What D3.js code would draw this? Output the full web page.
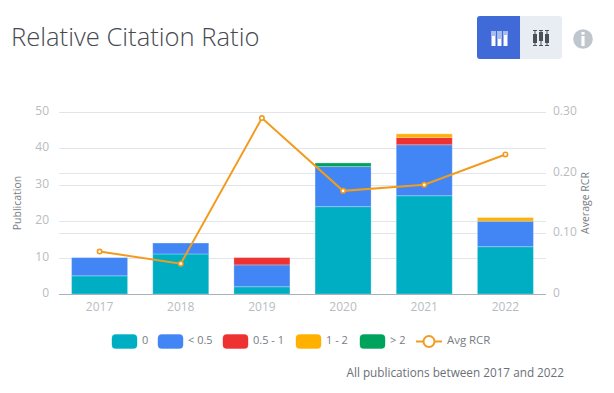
<!DOCTYPE html>
<html lang="en">
<head>
    <meta charset="UTF-8">
    <title>Relative Citation Ratio</title>
    <script src="https://d3js.org/d3.v7.min.js"></script>
    <style>
        body { margin: 0; background: #fff; }
        svg { display: block; font-family: "Open Sans", sans-serif; }
        .tick text { fill: #b8bcc2; font-size: 12px; font-family: "Open Sans", sans-serif; }
        .tick line, .domain { display: none; }
        .grid line { stroke: #e1e5ec; stroke-width: 1; }
    </style>
</head>
<body>
    <svg id="chart" width="614" height="393"></svg>
    <script>
        const years = ["2017", "2018", "2019", "2020", "2021", "2022"];
        const groups = ["0", "< 0.5", "0.5 - 1", "1 - 2", "> 2"];
        const colors = ["#00aec3", "#4285f4", "#ee3131", "#ffb000", "#00a35c"];
        const zero = [5, 11, 2, 24, 27, 13];
        const underHalf = [5, 3, 6, 11, 14, 7];
        const halfToOne = [0, 0, 2, 0, 2, 0];
        const oneToTwo = [0, 0, 0, 0, 1, 1];
        const overTwo = [0, 0, 0, 1, 0, 0];
        const avgRcr = [0.07, 0.05, 0.29, 0.17, 0.18, 0.23];
        const leftTicks = [0, 10, 20, 30, 40, 50];
        const rightTicks = [0, 0.1, 0.2, 0.3];

        const svg = d3.select("#chart");
        const plot = { left: 59, right: 546, top: 112, bottom: 294 };

        const rows = years.map((y, i) => ({
            year: y,
            "0": zero[i],
            "< 0.5": underHalf[i],
            "0.5 - 1": halfToOne[i],
            "1 - 2": oneToTwo[i],
            "> 2": overTwo[i]
        }));
        const stacked = d3.stack().keys(groups)(rows);

        const x = d3.scaleBand().domain(years).range([plot.left, plot.right]).paddingInner(0.31).paddingOuter(0.155);
        const xPoint = y => x(y) + x.bandwidth() / 2;
        const yLeft = d3.scaleLinear().domain([0, 50]).range([plot.bottom, plot.top]);
        const yRight = d3.scaleLinear().domain([0, 0.3]).range([plot.bottom, plot.top]);
        const color = d3.scaleOrdinal().domain(groups).range(colors);

        // title
        svg.append("text").attr("x", 11).attr("y", 45.5)
            .attr("font-size", 25.6).attr("font-weight", 300).attr("fill", "#464a50").text("Relative Citation Ratio");

        // both axes draw their own grid lines
        const grid = svg.append("g").attr("class", "grid");
        grid.selectAll(".gl").data(leftTicks.slice(1)).enter().append("line")
            .attr("x1", plot.left).attr("x2", plot.right)
            .attr("y1", d => Math.round(yLeft(d)) + 0.5).attr("y2", d => Math.round(yLeft(d)) + 0.5);
        grid.selectAll(".gr").data(rightTicks.slice(1, 3)).enter().append("line")
            .attr("x1", plot.left).attr("x2", plot.right)
            .attr("y1", d => Math.round(yRight(d)) + 0.5).attr("y2", d => Math.round(yRight(d)) + 0.5);

        // bars
        svg.selectAll(".layer").data(stacked).enter().append("g")
            .attr("fill", d => color(d.key))
            .selectAll("rect").data(d => d.filter(p => p[1] > p[0])).enter().append("rect")
            .attr("x", d => x(d.data.year))
            .attr("width", x.bandwidth())
            .attr("y", d => yLeft(d[1]))
            .attr("height", d => yLeft(d[0]) - yLeft(d[1]))
            .attr("stroke", "#fff").attr("stroke-opacity", 0.25).attr("stroke-width", 1);

        // baseline
        svg.append("line").attr("x1", plot.left).attr("x2", plot.right)
            .attr("y1", plot.bottom + 0.5).attr("y2", plot.bottom + 0.5)
            .attr("stroke", "#a9b1ba");

        // axes
        svg.append("g").attr("transform", `translate(${plot.left - 7},0)`)
            .call(d3.axisLeft(yLeft).tickValues(leftTicks).tickSize(0).tickFormat(d3.format("d")))
            .selectAll("text").attr("dy", "0.2em");
        svg.append("g").attr("transform", `translate(${plot.right + 7},0)`)
            .call(d3.axisRight(yRight).tickValues(rightTicks).tickSize(0).tickPadding(0).tickFormat(d => d === 0 ? "0" : d3.format(".2f")(d)))
            .selectAll("text").attr("dy", "0.2em");
        svg.append("g").attr("transform", `translate(0,${plot.bottom + 5})`)
            .call(d3.axisBottom(x).tickSize(0));

        svg.append("text").attr("transform", "translate(21,203) rotate(-90)")
            .attr("text-anchor", "middle").attr("font-size", 10.5).attr("fill", "#777c83").text("Publication");
        svg.append("text").attr("transform", "translate(589,203) rotate(-90)")
            .attr("text-anchor", "middle").attr("font-size", 10.5).attr("fill", "#777c83").text("Average RCR");

        // line
        const line = d3.line().x((d, i) => xPoint(years[i])).y(d => yRight(d));
        svg.append("path").datum(avgRcr).attr("d", line)
            .attr("fill", "none").attr("stroke", "#f29c1f").attr("stroke-width", 2);
        svg.selectAll(".pt").data(avgRcr).enter().append("circle")
            .attr("cx", (d, i) => xPoint(years[i])).attr("cy", d => yRight(d)).attr("r", 2.2)
            .attr("fill", "#fff").attr("stroke", "#f29c1f").attr("stroke-width", 1.6);

        // legend
        const legendX = [112, 158, 223, 296, 360];
        const legend = svg.append("g");
        groups.forEach((g, i) => {
            legend.append("rect").attr("x", legendX[i]).attr("y", 334.5).attr("width", 25).attr("height", 14).attr("rx", 3.5)
                .attr("fill", color(g)).attr("stroke", color(g)).attr("stroke-opacity", 0.4);
            legend.append("text").attr("x", legendX[i] + 30).attr("y", 344)
                .attr("font-size", 11).attr("fill", "#777c83").text(g);
        });
        legend.append("line").attr("x1", 416).attr("x2", 442).attr("y1", 341.5).attr("y2", 341.5)
            .attr("stroke", "#f29c1f").attr("stroke-width", 2);
        legend.append("circle").attr("cx", 429).attr("cy", 341.5).attr("r", 5.5)
            .attr("fill", "#fff").attr("stroke", "#f29c1f").attr("stroke-width", 2);
        legend.append("text").attr("x", 447).attr("y", 344)
            .attr("font-size", 11.4).attr("fill", "#777c83").text("Avg RCR");

        svg.append("text").attr("x", 564).attr("y", 377).attr("text-anchor", "end")
            .attr("font-size", 11.75).attr("fill", "#6b7077").text("All publications between 2017 and 2022");

        // toggle buttons
        const btn = svg.append("g");
        btn.append("rect").attr("x", 477).attr("y", 16).attr("width", 85).attr("height", 43).attr("rx", 3).attr("fill", "#e8ecf3");
        btn.append("path").attr("d", "M480 16H520V59H480a3 3 0 0 1-3-3V19a3 3 0 0 1 3-3z").attr("fill", "#3f6ad8");
        [491.5, 497.5, 503.5].forEach((bx, i) => {
            btn.append("rect").attr("x", bx).attr("y", 31).attr("width", 4).attr("height", 15).attr("fill", "#fff");
            btn.append("rect").attr("x", bx).attr("y", 31).attr("width", 4).attr("height", [5, 8, 4][i]).attr("fill", "#a9bdee");
        });
        [535, 541, 547].forEach((bx, i) => {
            btn.append("line").attr("x1", bx).attr("x2", bx).attr("y1", 30).attr("y2", 46).attr("stroke", "#4a5058");
            btn.append("line").attr("x1", bx - 2).attr("x2", bx + 2).attr("y1", 30.5).attr("y2", 30.5).attr("stroke", "#4a5058");
            btn.append("line").attr("x1", bx - 2).attr("x2", bx + 2).attr("y1", 45.5).attr("y2", 45.5).attr("stroke", "#4a5058");
            btn.append("rect").attr("x", bx - 2).attr("y", [34, 32, 34][i]).attr("width", 4).attr("height", 9).attr("fill", "#4a5058");
        });
        btn.append("circle").attr("cx", 583).attr("cy", 39).attr("r", 9.8).attr("fill", "#c0c6ce");
        btn.append("text").attr("x", 583).attr("y", 45.5).attr("text-anchor", "middle")
            .attr("font-size", 17).attr("font-weight", 700).attr("font-family", "DejaVu Sans").attr("fill", "#fff").text("i");
    </script>
</body>
</html>
